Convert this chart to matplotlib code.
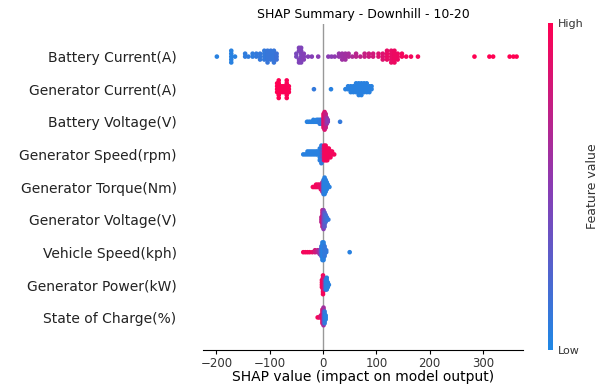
import numpy as np
import matplotlib.pyplot as plt
from matplotlib.colors import LinearSegmentedColormap

# features, top to bottom
features = ['Battery Current(A)', 'Generator Current(A)', 'Battery Voltage(V)',
            'Generator Speed(rpm)', 'Generator Torque(Nm)', 'Generator Voltage(V)',
            'Vehicle Speed(kph)', 'Generator Power(kW)', 'State of Charge(%)']

# shap values, how many samples share that value, normalised feature value
bc_shap = [-199, -172, -165, -146, -140, -132, -125, -118, -110, -104, -98, -92, -87,
           -50, -45, -41, -36, -28, -21, -9, 10, 16, 22, 30, 36, 42, 48, 55, 62, 70,
           78, 86, 94, 104, 112, 120, 128, 134, 140, 148, 156, 165, 178,
           284, 312, 319, 350, 357, 363]
bc_count = [1, 5, 1, 2, 1, 2, 2, 3, 4, 5, 4, 5, 3,
            2, 4, 6, 3, 1, 1, 1, 1, 1, 1, 2, 3, 3, 2, 1, 2, 1,
            2, 2, 2, 2, 3, 4, 5, 5, 3, 2, 1, 1, 1,
            1, 1, 1, 1, 1, 1]
bc_feat = [0.05, 0.05, 0.05, 0.08, 0.08, 0.08, 0.1, 0.1, 0.1, 0.12, 0.12, 0.12, 0.15,
           0.42, 0.45, 0.45, 0.47, 0.47, 0.48, 0.5, 0.5, 0.5, 0.52, 0.55, 0.58, 0.6, 0.62, 0.65, 0.7, 0.72,
           0.75, 0.78, 0.8, 0.85, 0.85, 0.9, 0.9, 0.92, 0.92, 0.95, 0.95, 0.95, 0.95,
           1, 1, 1, 1, 1, 1]

gc_shap = [-86, -83, -79, -75, -71, -68, -64, -17, 15, 42, 47, 52, 57, 62, 67, 72, 77, 82, 87, 91]
gc_count = [4, 7, 3, 3, 3, 7, 3, 1, 1, 1, 2, 3, 3, 4, 5, 5, 4, 4, 3, 2]
gc_feat = [1, 1, 1, 0.98, 0.98, 0.98, 0.98, 0.1, 0.05, 0.05, 0.05, 0.05, 0.05, 0.05,
           0.05, 0.05, 0.05, 0.05, 0.05, 0.05]

bv_shap = [-30, -27, -24, -21, -18, -15, -12, -9, -6, -3, 1, 3, 5, 7, 9, 32]
bv_count = [1, 1, 1, 1, 2, 1, 2, 2, 3, 3, 8, 10, 8, 4, 2, 1]
bv_feat = [0.05, 0.05, 0.05, 0.05, 0.05, 0.05, 0.05, 0.05, 0.08, 0.1, 0.9, 0.85, 0.75, 0.6, 0.5, 0.1]

gs_shap = [-37, -33, -29, -25, -21, -17, -13, -10, -6, -3, -1, 2, 5, 8, 11, 14, 17, 21]
gs_count = [1, 1, 2, 2, 2, 2, 2, 2, 5, 7, 4, 6, 6, 5, 4, 3, 2, 1]
gs_feat = [0.05, 0.05, 0.05, 0.05, 0.05, 0.05, 0.05, 0.05, 0.05, 0.08, 0.3,
           0.9, 0.95, 0.95, 0.95, 0.95, 0.95, 0.95]

gt_shap = [-19, -16, -13, -10, -7, -4, -1, 1, 3, 5, 7, 9, 12]
gt_count = [1, 1, 2, 2, 2, 3, 5, 7, 8, 6, 4, 2, 1]
gt_feat = [0.95, 0.95, 0.95, 0.95, 0.9, 0.9, 0.7, 0.1, 0.05, 0.05, 0.05, 0.05, 0.05]

gv_shap = [-3, -1, 1, 3, 5, 7, 10]
gv_count = [3, 8, 9, 7, 4, 2, 1]
gv_feat = [0.7, 0.8, 0.5, 0.3, 0.2, 0.15, 0.1]

vs_shap = [-37, -33, -29, -25, -20, -15, -10, -6, -3, -1, 1, 3, 6, 50]
vs_count = [1, 1, 1, 1, 1, 2, 2, 3, 6, 10, 10, 6, 2, 1]
vs_feat = [0.95, 0.95, 0.95, 0.95, 0.9, 0.8, 0.7, 0.5, 0.2, 0.05, 0.05, 0.1, 0.1, 0.05]

gp_shap = [-2, 0, 2, 5, 7, 9, 11]
gp_count = [4, 9, 6, 5, 6, 3, 1]
gp_feat = [0.95, 0.95, 0.8, 0.1, 0.05, 0.05, 0.05]

soc_shap = [-10, -7, -4, -1, 1, 3, 5]
soc_count = [1, 1, 2, 8, 10, 7, 3]
soc_feat = [0.95, 0.95, 0.8, 0.9, 0.6, 0.1, 0.05]

rows = [(bc_shap, bc_count, bc_feat), (gc_shap, gc_count, gc_feat),
        (bv_shap, bv_count, bv_feat), (gs_shap, gs_count, gs_feat),
        (gt_shap, gt_count, gt_feat), (gv_shap, gv_count, gv_feat),
        (vs_shap, vs_count, vs_feat), (gp_shap, gp_count, gp_feat),
        (soc_shap, soc_count, soc_feat)]

cmap = LinearSegmentedColormap.from_list('red_blue', ['#1e88e5', '#8a3cb4', '#ff0052'])


def swarm(shaps, row_height=0.4, nbins=100):
    # same layering idea as shap's beeswarm
    n = len(shaps)
    quant = np.round(nbins * (shaps - shaps.min()) / (shaps.max() - shaps.min() + 1e-8))
    inds = np.argsort(quant, kind='stable')
    ys = np.zeros(n)
    layer = 0
    last_bin = -1
    for ind in inds:
        if quant[ind] != last_bin:
            layer = 0
        ys[ind] = np.ceil(layer / 2) * ((layer % 2) * 2 - 1)
        layer += 1
        last_bin = quant[ind]
    ys *= 0.9 * (row_height / np.max(ys + 1))
    return ys


fig = plt.figure(figsize=(6.08, 3.87), dpi=100)
ax = fig.add_axes([203 / 608, 37 / 387, 320 / 608, 326 / 387])

n = len(features)
ax.axvline(0, color='#999999', lw=1, zorder=-1)
for i, (s, c, f) in enumerate(rows):
    pos = n - 1 - i
    shaps = np.repeat(np.array(s, dtype=float), c)
    feats = np.repeat(np.array(f, dtype=float), c)
    ys = swarm(shaps)
    ax.scatter(shaps, pos + ys, c=feats, cmap=cmap, vmin=0, vmax=1, s=11,
               linewidth=0, alpha=1, zorder=3)

ax.set_xlim(-225, 375)
ax.set_ylim(-1, n)
ax.set_yticks(range(n))
ax.set_yticklabels(features[::-1], fontsize=10, color='#222222')
ax.tick_params('y', length=0, pad=19)
ax.tick_params('x', labelsize=8.5, length=3, pad=2, labelcolor='#333333')
for side in ['top', 'right', 'left']:
    ax.spines[side].set_visible(False)
ax.set_xlabel('SHAP value (impact on model output)', fontsize=10, labelpad=0)
ax.set_title('SHAP Summary - Downhill - 10-20', fontsize=9, pad=4)

cax = fig.add_axes([548 / 608, 37 / 387, 5 / 608, 327 / 387])
sm = plt.cm.ScalarMappable(cmap=cmap, norm=plt.Normalize(0, 1))
cb = fig.colorbar(sm, cax=cax, ticks=[0, 1])
cb.set_ticklabels(['Low', 'High'])
cb.ax.tick_params(labelsize=8, length=0, labelcolor='#333333')
cb.outline.set_visible(False)
cb.set_label('Feature value', size=9, labelpad=2, color='#333333')

fig.savefig('out.png', dpi=100)
